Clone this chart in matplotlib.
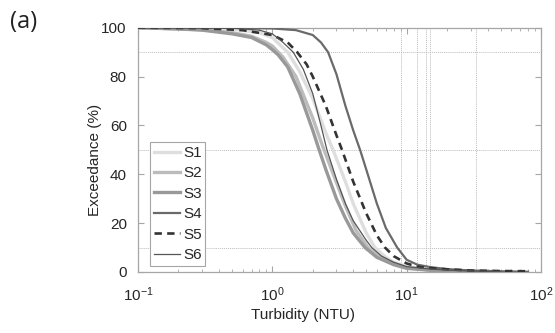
import numpy as np
import matplotlib
matplotlib.use("Agg")
import matplotlib.pyplot as plt
from matplotlib.ticker import LogLocator, FixedLocator

plt.rcParams['font.family'] = ['Liberation Sans', 'DejaVu Sans']
plt.rcParams['mathtext.default'] = 'regular'

# ---- data ----
s1_x = [0.1, 0.3, 0.5, 0.8, 1.0, 1.3, 1.6, 2.0, 2.5, 2.83, 3.5, 4.0, 5.0, 5.8, 7.0, 8.0, 10, 15, 20, 30, 50]
s1_y = [100, 99.9, 99.5, 98, 96, 90, 82, 71, 57, 50, 37, 28, 16, 10, 6, 4, 2.2, 1.0, 0.6, 0.3, 0.1]

s2_x = [0.1, 0.3, 0.5, 0.7, 0.9, 1.0, 1.2, 1.5, 2.0, 2.35, 2.8, 3.5, 4.2, 5.16, 6.0, 8.0, 10, 15, 20, 30]
s2_y = [100, 99.2, 98, 96.5, 94, 92.5, 88, 80, 63, 52, 41, 27, 17, 10, 7, 3.5, 1.8, 0.8, 0.5, 0.2]

s3_x = [0.1, 0.2, 0.3, 0.5, 0.7, 0.9, 1.0, 1.1, 1.3, 1.6, 2.0, 2.2, 2.5, 3.0, 3.5, 4.0, 4.9, 6.0, 8.0, 10, 15, 20, 30]
s3_y = [100, 99.5, 99, 97.5, 96, 93, 91, 89, 84, 73, 58, 51, 42, 30, 22, 16, 10, 6, 3, 1.5, 0.7, 0.4, 0.2]

s4_x = [0.1, 0.5, 1.0, 1.5, 2.0, 2.3, 2.6, 3.0, 3.5, 4.0, 4.5, 5.0, 6.0, 7.0, 8.5, 10, 12, 15, 20, 30, 50, 80]
s4_y = [100, 99.9, 99.7, 99, 97, 94, 90, 81, 68, 58, 50, 42, 28, 18, 10, 5, 3, 2, 1.2, 0.6, 0.3, 0.1]

s5_x = [0.1, 0.3, 0.6, 1.0, 1.3, 1.53, 1.8, 2.0, 2.5, 3.0, 3.3, 4.0, 5.0, 6.0, 6.9, 8.0, 10, 12, 15, 20, 30, 50, 80]
s5_y = [100, 99.8, 99, 97, 94, 90, 85, 80, 68, 56, 50, 37, 24, 15, 10, 6.5, 3.5, 2.2, 1.6, 1.1, 0.6, 0.4, 0.3]

s6_x = [0.1, 0.5, 0.8, 1.0, 1.2, 1.43, 1.7, 2.0, 2.3, 2.55, 3.0, 3.5, 4.0, 5.0, 5.5, 6.5, 8.0, 10, 15, 20, 30, 50]
s6_y = [100, 99.8, 99, 97.5, 94, 90, 83, 73, 60, 50, 38, 28, 21, 13, 10, 6.5, 4, 2.2, 1.2, 0.8, 0.4, 0.2]

labels = ['S1', 'S2', 'S3', 'S4', 'S5', 'S6']
ref_y = [90, 50, 10]
ref_x = [9, 12, 14, 15, 33]
xticks = [0.1, 1, 10, 100]
yticks = [0, 20, 40, 60, 80, 100]

# ---- figure ----
fig = plt.figure(figsize=(5.55, 3.33), dpi=100)
ax = fig.add_axes([0.2486, 0.1832, 0.7262, 0.7336])

for yv in ref_y:
    ax.axhline(yv, color='#bdbdbd', lw=0.7, ls=(0, (1, 1)), zorder=1)
for xv in ref_x:
    ax.axvline(xv, color='#bdbdbd', lw=0.7, ls=(0, (1, 1)), zorder=1)

ax.plot(s1_x, s1_y, color='#dedede', lw=2.4, label=labels[0], zorder=3)
ax.plot(s2_x, s2_y, color='#bcbcbc', lw=2.4, label=labels[1], zorder=3)
ax.plot(s3_x, s3_y, color='#999999', lw=2.4, label=labels[2], zorder=3)
ax.plot(s4_x, s4_y, color='#6a6a6a', lw=1.6, label=labels[3], zorder=3)
ax.plot(s5_x, s5_y, color='#333333', lw=1.9, ls=(0, (2.8, 2.0)), label=labels[4], zorder=3)
ax.plot(s6_x, s6_y, color='#555555', lw=0.9, label=labels[5], zorder=3)

ax.set_xscale('log')
ax.set_xlim(0.1, 100)
ax.set_ylim(0, 100)
ax.xaxis.set_major_locator(FixedLocator(xticks))
ax.xaxis.set_minor_locator(LogLocator(base=10, subs=np.arange(2, 10), numticks=20))
ax.set_yticks(yticks)

for sp in ax.spines.values():
    sp.set_color('#a6a6a6')
    sp.set_linewidth(0.9)
ax.tick_params(which='both', direction='in', top=True, right=True, color='#a6a6a6',
               labelcolor='#262626', labelsize=11)
ax.tick_params(axis='x', which='major', pad=10)
ax.tick_params(axis='y', which='major', pad=8)
ax.tick_params(which='major', length=4, width=0.8)
ax.tick_params(which='minor', length=2.5, width=0.6)

ax.set_xlabel('Turbidity (NTU)', fontsize=11, color='#262626')
ax.xaxis.set_label_coords(0.41, -0.148)
ax.set_ylabel('Exceedance (%)', fontsize=11, color='#262626')
ax.yaxis.set_label_coords(-0.09, 0.458)

leg = ax.legend(loc='lower left', bbox_to_anchor=(0.03, 0.025), borderaxespad=0,
                fontsize=11, handlelength=1.7, handletextpad=0.2, labelspacing=0.42,
                borderpad=0.25, fancybox=False, framealpha=1)
leg.get_frame().set_edgecolor('#a6a6a6')
leg.get_frame().set_linewidth(0.8)
for t in leg.get_texts():
    t.set_color('#262626')

fig.text(0.018, 0.934, '(a)', fontsize=17, family=['Open Sans', 'DejaVu Sans'],
         color='#222222', va='center')

fig.savefig('out.png', dpi=100)
